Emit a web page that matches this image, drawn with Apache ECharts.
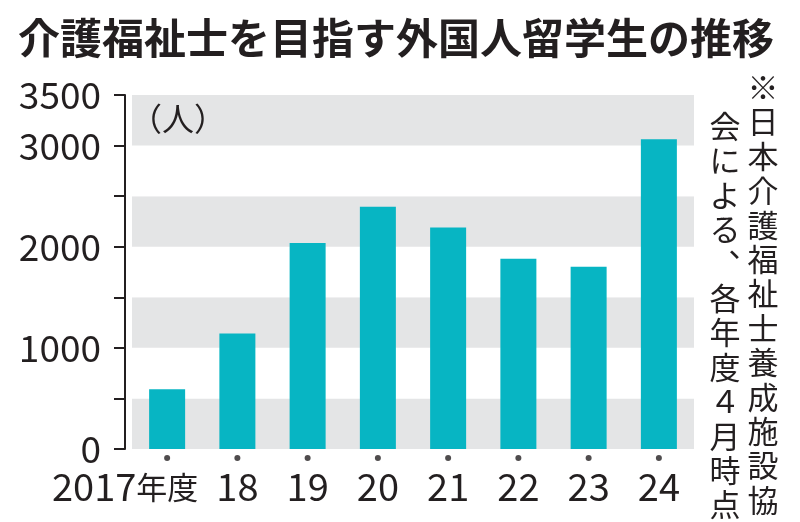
<!DOCTYPE html>
<html><head><meta charset="utf-8">
<script src="https://cdn.jsdelivr.net/npm/echarts@6/dist/echarts.min.js"></script>
<style>html,body{margin:0;padding:0;background:#fff}#c{width:800px;height:522px}</style>
</head><body><div id="c"></div>
<script>
const titleText = '介護福祉士を目指す外国人留学生の推移';
const categories = ['2017年度', '18', '19', '20', '21', '22', '23', '24'];
const students = [591, 1142, 2037, 2395, 2189, 1880, 1802, 3063];
const yTickLabels = [0, 1000, 2000, 3000, 3500];
const unitLabel = '（人）';
const noteCol1 = '※日本介護福祉士養成施設協';
const noteCol2 = '会による︑各年度４月時点';

const NUM = "'Noto Sans CJK JP',sans-serif";
const CJK = "'Noto Sans CJK JP',sans-serif";
const INK = '#231f20';

const chart = echarts.init(document.getElementById('c'), null, {renderer: 'canvas'});
chart.setOption({
  backgroundColor: '#fff',
  animation: false,
  title: {
    text: titleText, left: 13, top: 12,
    textStyle: {fontFamily: CJK, fontWeight: 'bold', fontSize: 42, color: INK}
  },
  grid: {left: 132, right: 106, top: 95, bottom: 73},
  xAxis: {
    type: 'category', data: categories,
    axisLine: {show: false}, axisTick: {show: false},
    axisLabel: {
      margin: 19, color: INK, interval: 0, hideOverlap: false,
      formatter: v => v.includes('年度') ? '{n|' + v.replace('年度', '') + '}{k|年度}{s| }' : '{n|' + v + '}',
      rich: {
        n: {fontFamily: NUM, fontSize: 38, color: INK},
        k: {fontFamily: CJK, fontSize: 31, color: INK},
        s: {fontFamily: CJK, fontSize: 31, width: 84}
      }
    }
  },
  yAxis: {
    type: 'value', min: 0, max: 3500, interval: 500, offset: 7,
    axisLine: {show: true, lineStyle: {color: INK, width: 2}},
    axisTick: {show: true, length: 11, lineStyle: {color: INK, width: 2}},
    splitLine: {show: false},
    splitArea: {show: true, areaStyle: {color: ['#e4e5e6', '#ffffff']}},
    axisLabel: {
      margin: 24, fontFamily: NUM, fontSize: 37, color: INK,
      formatter: v => yTickLabels.includes(v) ? String(v) : ''
    }
  },
  series: [
    {type: 'bar', data: students, barWidth: 36, itemStyle: {color: '#07b5c3'}},
    {type: 'scatter', data: categories.map(() => 0), symbol: 'circle', symbolSize: 6,
     symbolOffset: [0, 9], clip: false, itemStyle: {color: INK}, silent: true}
  ],
  graphic: [
    {type: 'text', left: 130, top: 103, z: 100,
     style: {text: unitLabel, font: "32px 'Noto Sans CJK JP'", fill: INK}},
    {type: 'text', x: 763, y: 70, z: 100,
     style: {text: noteCol1.split('').join('\n'), font: "31px 'Noto Sans CJK JP'", fill: INK,
             align: 'center', verticalAlign: 'top', lineHeight: 34.4}},
    {type: 'text', x: 725, y: 109, z: 100,
     style: {text: noteCol2.split('').join('\n'), font: "31px 'Noto Sans CJK JP'", fill: INK,
             align: 'center', verticalAlign: 'top', lineHeight: 34.4}}
  ]
});
</script></body></html>
